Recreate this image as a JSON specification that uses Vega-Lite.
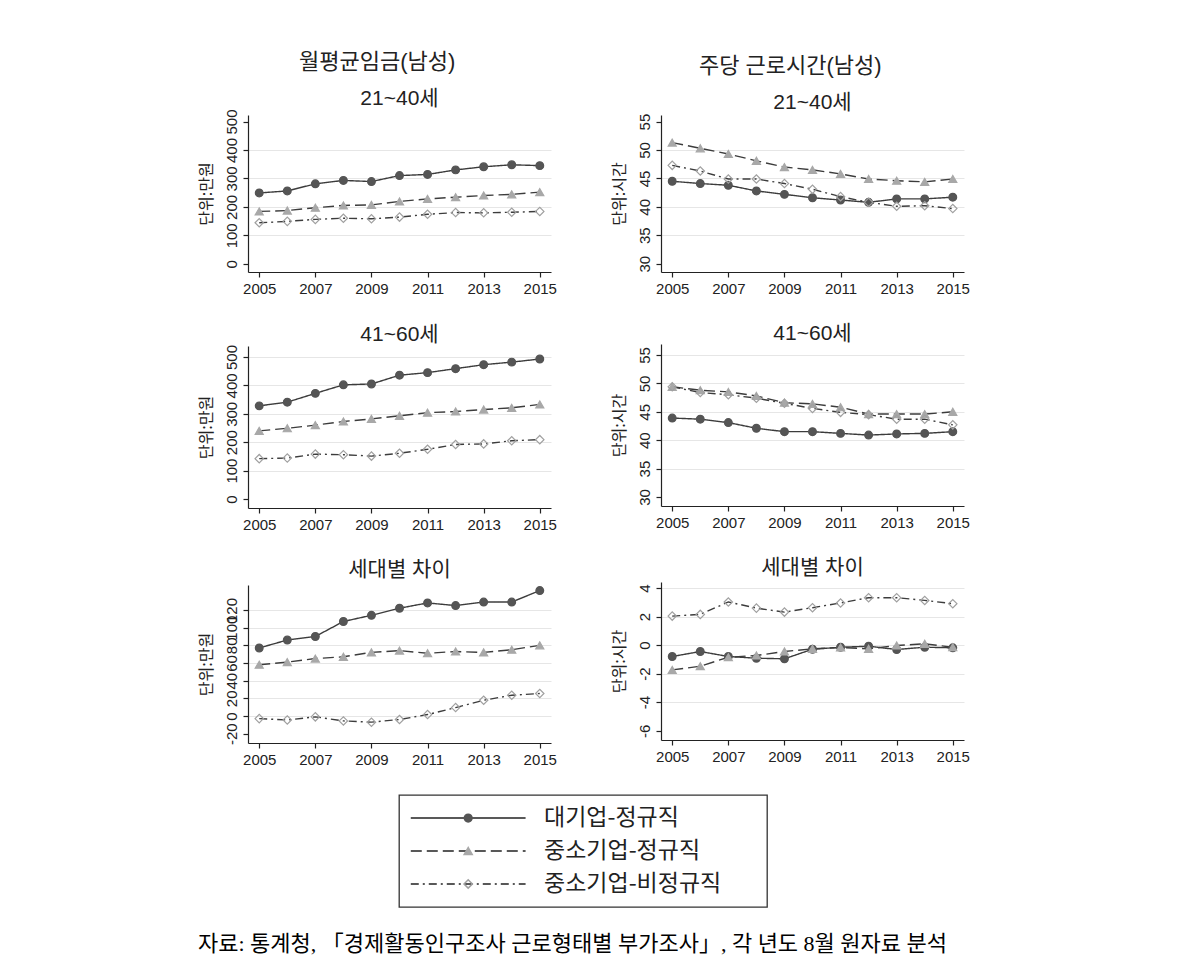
{
  "$schema": "https://vega.github.io/schema/vega-lite/v6.json",
  "padding": {"left": 198, "top": 51, "right": 0, "bottom": 0},
  "background": "white",
  "datasets": {
    "d": [
      {"p": "w1", "year": 2005, "대기업-정규직": 249, "중소기업-정규직": 184, "중소기업-비정규직": 144},
      {"p": "w1", "year": 2006, "대기업-정규직": 256, "중소기업-정규직": 187, "중소기업-비정규직": 149},
      {"p": "w1", "year": 2007, "대기업-정규직": 281, "중소기업-정규직": 197, "중소기업-비정규직": 156},
      {"p": "w1", "year": 2008, "대기업-정규직": 293, "중소기업-정규직": 205, "중소기업-비정규직": 160},
      {"p": "w1", "year": 2009, "대기업-정규직": 289, "중소기업-정규직": 207, "중소기업-비정규직": 158},
      {"p": "w1", "year": 2010, "대기업-정규직": 310, "중소기업-정규직": 219, "중소기업-비정규직": 164},
      {"p": "w1", "year": 2011, "대기업-정규직": 314, "중소기업-정규직": 228, "중소기업-비정규직": 174},
      {"p": "w1", "year": 2012, "대기업-정규직": 330, "중소기업-정규직": 234, "중소기업-비정규직": 180},
      {"p": "w1", "year": 2013, "대기업-정규직": 341, "중소기업-정규직": 240, "중소기업-비정규직": 179},
      {"p": "w1", "year": 2014, "대기업-정규직": 348, "중소기업-정규직": 244, "중소기업-비정규직": 181},
      {"p": "w1", "year": 2015, "대기업-정규직": 345, "중소기업-정규직": 252, "중소기업-비정규직": 184},
      {"p": "w2", "year": 2005, "대기업-정규직": 328, "중소기업-정규직": 240, "중소기업-비정규직": 142},
      {"p": "w2", "year": 2006, "대기업-정규직": 341, "중소기업-정규직": 249, "중소기업-비정규직": 144},
      {"p": "w2", "year": 2007, "대기업-정규직": 372, "중소기업-정규직": 260, "중소기업-비정규직": 158},
      {"p": "w2", "year": 2008, "대기업-정규직": 402, "중소기업-정규직": 273, "중소기업-비정규직": 156},
      {"p": "w2", "year": 2009, "대기업-정규직": 405, "중소기업-정규직": 282, "중소기업-비정규직": 151},
      {"p": "w2", "year": 2010, "대기업-정규직": 436, "중소기업-정규직": 293, "중소기업-비정규직": 161},
      {"p": "w2", "year": 2011, "대기업-정규직": 445, "중소기업-정규직": 304, "중소기업-비정규직": 175},
      {"p": "w2", "year": 2012, "대기업-정규직": 459, "중소기업-정규직": 308, "중소기업-비정규직": 192},
      {"p": "w2", "year": 2013, "대기업-정규직": 473, "중소기업-정규직": 315, "중소기업-비정규직": 194},
      {"p": "w2", "year": 2014, "대기업-정규직": 482, "중소기업-정규직": 321, "중소기업-비정규직": 205},
      {"p": "w2", "year": 2015, "대기업-정규직": 493, "중소기업-정규직": 333, "중소기업-비정규직": 209},
      {"p": "w3", "year": 2005, "대기업-정규직": 77, "중소기업-정규직": 58, "중소기업-비정규직": -3},
      {"p": "w3", "year": 2006, "대기업-정규직": 86, "중소기업-정규직": 61, "중소기업-비정규직": -4.5},
      {"p": "w3", "year": 2007, "대기업-정규직": 90, "중소기업-정규직": 65, "중소기업-비정규직": -1},
      {"p": "w3", "year": 2008, "대기업-정규직": 107, "중소기업-정규직": 67, "중소기업-비정규직": -5.6},
      {"p": "w3", "year": 2009, "대기업-정규직": 114, "중소기업-정규직": 72, "중소기업-비정규직": -7},
      {"p": "w3", "year": 2010, "대기업-정규직": 122, "중소기업-정규직": 74, "중소기업-비정규직": -4},
      {"p": "w3", "year": 2011, "대기업-정규직": 128, "중소기업-정규직": 71, "중소기업-비정규직": 1.6},
      {"p": "w3", "year": 2012, "대기업-정규직": 125, "중소기업-정규직": 73, "중소기업-비정규직": 9.5},
      {"p": "w3", "year": 2013, "대기업-정규직": 129, "중소기업-정규직": 72, "중소기업-비정규직": 17.8},
      {"p": "w3", "year": 2014, "대기업-정규직": 129, "중소기업-정규직": 75, "중소기업-비정규직": 23.5},
      {"p": "w3", "year": 2015, "대기업-정규직": 142, "중소기업-정규직": 80, "중소기업-비정규직": 25.4},
      {"p": "h1", "year": 2005, "대기업-정규직": 44.5, "중소기업-정규직": 51.3, "중소기업-비정규직": 47.3},
      {"p": "h1", "year": 2006, "대기업-정규직": 44.1, "중소기업-정규직": 50.3, "중소기업-비정규직": 46.3},
      {"p": "h1", "year": 2007, "대기업-정규직": 43.8, "중소기업-정규직": 49.3, "중소기업-비정규직": 44.9},
      {"p": "h1", "year": 2008, "대기업-정규직": 42.8, "중소기업-정규직": 48.1, "중소기업-비정규직": 44.9},
      {"p": "h1", "year": 2009, "대기업-정규직": 42.2, "중소기업-정규직": 47.0, "중소기업-비정규직": 44.1},
      {"p": "h1", "year": 2010, "대기업-정규직": 41.6, "중소기업-정규직": 46.5, "중소기업-비정규직": 43.1},
      {"p": "h1", "year": 2011, "대기업-정규직": 41.2, "중소기업-정규직": 45.8, "중소기업-비정규직": 41.8},
      {"p": "h1", "year": 2012, "대기업-정규직": 40.8, "중소기업-정규직": 44.9, "중소기업-비정규직": 40.8},
      {"p": "h1", "year": 2013, "대기업-정규직": 41.4, "중소기업-정규직": 44.6, "중소기업-비정규직": 40.1},
      {"p": "h1", "year": 2014, "대기업-정규직": 41.4, "중소기업-정규직": 44.4, "중소기업-비정규직": 40.2},
      {"p": "h1", "year": 2015, "대기업-정규직": 41.7, "중소기업-정규직": 44.9, "중소기업-비정규직": 39.7},
      {"p": "h2", "year": 2005, "대기업-정규직": 43.9, "중소기업-정규직": 49.4, "중소기업-비정규직": 49.4},
      {"p": "h2", "year": 2006, "대기업-정규직": 43.7, "중소기업-정규직": 48.8, "중소기업-비정규직": 48.4},
      {"p": "h2", "year": 2007, "대기업-정규직": 43.1, "중소기업-정규직": 48.5, "중소기업-비정규직": 48.0},
      {"p": "h2", "year": 2008, "대기업-정규직": 42.1, "중소기업-정규직": 47.8, "중소기업-비정규직": 47.4},
      {"p": "h2", "year": 2009, "대기업-정규직": 41.5, "중소기업-정규직": 46.6, "중소기업-비정규직": 46.5},
      {"p": "h2", "year": 2010, "대기업-정규직": 41.5, "중소기업-정규직": 46.4, "중소기업-비정규직": 45.6},
      {"p": "h2", "year": 2011, "대기업-정규직": 41.2, "중소기업-정규직": 45.8, "중소기업-비정규직": 44.9},
      {"p": "h2", "year": 2012, "대기업-정규직": 40.9, "중소기업-정규직": 44.6, "중소기업-비정규직": 44.5},
      {"p": "h2", "year": 2013, "대기업-정규직": 41.1, "중소기업-정규직": 44.6, "중소기업-비정규직": 43.7},
      {"p": "h2", "year": 2014, "대기업-정규직": 41.2, "중소기업-정규직": 44.6, "중소기업-비정규직": 43.7},
      {"p": "h2", "year": 2015, "대기업-정규직": 41.5, "중소기업-정규직": 45.0, "중소기업-비정규직": 42.7},
      {"p": "h3", "year": 2005, "대기업-정규직": -0.80, "중소기업-정규직": -1.74, "중소기업-비정규직": 2.03},
      {"p": "h3", "year": 2006, "대기업-정규직": -0.45, "중소기업-정규직": -1.48, "중소기업-비정규직": 2.15},
      {"p": "h3", "year": 2007, "대기업-정규직": -0.80, "중소기업-정규직": -0.85, "중소기업-비정규직": 3.02},
      {"p": "h3", "year": 2008, "대기업-정규직": -0.92, "중소기업-정규직": -0.73, "중소기업-비정규직": 2.59},
      {"p": "h3", "year": 2009, "대기업-정규직": -0.96, "중소기업-정규직": -0.45, "중소기업-비정규직": 2.31},
      {"p": "h3", "year": 2010, "대기업-정규직": -0.29, "중소기업-정규직": -0.26, "중소기업-비정규직": 2.62},
      {"p": "h3", "year": 2011, "대기업-정규직": -0.15, "중소기업-정규직": -0.17, "중소기업-비정규직": 2.95},
      {"p": "h3", "year": 2012, "대기업-정규직": -0.08, "중소기업-정규직": -0.26, "중소기업-비정규직": 3.32},
      {"p": "h3", "year": 2013, "대기업-정규직": -0.31, "중소기업-정규직": -0.03, "중소기업-비정규직": 3.32},
      {"p": "h3", "year": 2014, "대기업-정규직": -0.15, "중소기업-정규직": 0.09, "중소기업-비정규직": 3.13},
      {"p": "h3", "year": 2015, "대기업-정규직": -0.19, "중소기업-정규직": -0.15, "중소기업-비정규직": 2.90}
    ],
    "legend": [
      {"g": "대기업-정규직"},
      {"g": "중소기업-정규직"},
      {"g": "중소기업-비정규직"}
    ]
  },
  "title": {"text": "자료: 통계청, 「경제활동인구조사 근로형태별 부가조사」, 각 년도 8월 원자료 분석", "orient": "bottom", "anchor": "start", "frame": "bounds", "offset": 26, "font": "Liberation Serif, Noto Sans CJK KR", "fontSize": 22, "fontWeight": "normal", "color": "#000"},
  "spacing": 27,
  "vconcat": [
    {
      "spacing": 54,
      "hconcat": [
        {
          "title": {"text": "월평균임금(남성)", "anchor": "middle", "frame": "bounds", "fontSize": 22, "offset": 14},
          "spacing": 27,
          "vconcat": [
            {
              "width": 303, "height": 157,
              "title": {"text": "21~40세", "offset": 0, "frame": "group"},
              "data": {"name": "d"},
              "transform": [{"filter": "datum.p === 'w1'"}, {"fold": ["대기업-정규직", "중소기업-정규직", "중소기업-비정규직"], "as": ["g", "v"]}],
              "encoding": {
                "x": {"field": "year", "type": "quantitative", "scale": {"domain": [2004.6, 2015.4], "nice": false, "zero": false}, "axis": {"values": [2005, 2007, 2009, 2011, 2013, 2015], "format": "d", "title": null}},
                "y": {"field": "v", "type": "quantitative", "scale": {"domain": [-29, 523], "nice": false, "zero": false}, "axis": {"values": [0, 100, 200, 300, 400, 500], "title": "단위:만원", "gridOpacity": {"condition": {"test": "datum.value <= 0 || datum.value >= 500", "value": 0}, "value": 1}}}
              },
              "layer": [
                {"mark": {"type": "line", "color": "#3c3c3c", "strokeWidth": 1.4}, "encoding": {"strokeDash": {"field": "g", "type": "nominal", "scale": {"domain": ["대기업-정규직", "중소기업-정규직", "중소기업-비정규직"], "range": [[1, 0], [11, 5], [8, 4, 2, 4]]}, "legend": null}}},
                {"mark": {"type": "point", "opacity": 1, "strokeWidth": 1.2}, "encoding": {
                  "shape": {"field": "g", "type": "nominal", "scale": {"domain": ["대기업-정규직", "중소기업-정규직", "중소기업-비정규직"], "range": ["circle", "triangle-up", "diamond"]}, "legend": null},
                  "fill": {"field": "g", "type": "nominal", "scale": {"domain": ["대기업-정규직", "중소기업-정규직", "중소기업-비정규직"], "range": ["#555555", "#a8a8a8", "transparent"]}, "legend": null},
                  "stroke": {"field": "g", "type": "nominal", "scale": {"domain": ["대기업-정규직", "중소기업-정규직", "중소기업-비정규직"], "range": ["#555555", "#a8a8a8", "#a0a0a0"]}, "legend": null},
                  "size": {"field": "g", "type": "ordinal", "scale": {"domain": ["대기업-정규직", "중소기업-정규직", "중소기업-비정규직"], "range": [60, 70, 85]}, "legend": null}
                }}
              ]
            },
            {
              "width": 303, "height": 162,
              "title": {"text": "41~60세", "offset": 0, "frame": "group"},
              "data": {"name": "d"},
              "transform": [{"filter": "datum.p === 'w2'"}, {"fold": ["대기업-정규직", "중소기업-정규직", "중소기업-비정규직"], "as": ["g", "v"]}],
              "encoding": {
                "x": {"field": "year", "type": "quantitative", "scale": {"domain": [2004.6, 2015.4], "nice": false, "zero": false}, "axis": {"values": [2005, 2007, 2009, 2011, 2013, 2015], "format": "d", "title": null}},
                "y": {"field": "v", "type": "quantitative", "scale": {"domain": [-31.8, 538.8], "nice": false, "zero": false}, "axis": {"values": [0, 100, 200, 300, 400, 500], "title": "단위:만원", "gridOpacity": {"condition": {"test": "datum.value <= 0", "value": 0}, "value": 1}}}
              },
              "layer": [
                {"mark": {"type": "line", "color": "#3c3c3c", "strokeWidth": 1.4}, "encoding": {"strokeDash": {"field": "g", "type": "nominal", "scale": {"domain": ["대기업-정규직", "중소기업-정규직", "중소기업-비정규직"], "range": [[1, 0], [11, 5], [8, 4, 2, 4]]}, "legend": null}}},
                {"mark": {"type": "point", "opacity": 1, "strokeWidth": 1.2}, "encoding": {
                  "shape": {"field": "g", "type": "nominal", "scale": {"domain": ["대기업-정규직", "중소기업-정규직", "중소기업-비정규직"], "range": ["circle", "triangle-up", "diamond"]}, "legend": null},
                  "fill": {"field": "g", "type": "nominal", "scale": {"domain": ["대기업-정규직", "중소기업-정규직", "중소기업-비정규직"], "range": ["#555555", "#a8a8a8", "transparent"]}, "legend": null},
                  "stroke": {"field": "g", "type": "nominal", "scale": {"domain": ["대기업-정규직", "중소기업-정규직", "중소기업-비정규직"], "range": ["#555555", "#a8a8a8", "#a0a0a0"]}, "legend": null},
                  "size": {"field": "g", "type": "ordinal", "scale": {"domain": ["대기업-정규직", "중소기업-정규직", "중소기업-비정규직"], "range": [60, 70, 85]}, "legend": null}
                }}
              ]
            },
            {
              "width": 303, "height": 158,
              "title": {"text": "세대별 차이", "offset": 4, "frame": "group"},
              "data": {"name": "d"},
              "transform": [{"filter": "datum.p === 'w3'"}, {"fold": ["대기업-정규직", "중소기업-정규직", "중소기업-비정규직"], "as": ["g", "v"]}],
              "encoding": {
                "x": {"field": "year", "type": "quantitative", "scale": {"domain": [2004.6, 2015.4], "nice": false, "zero": false}, "axis": {"values": [2005, 2007, 2009, 2011, 2013, 2015], "format": "d", "title": null}},
                "y": {"field": "v", "type": "quantitative", "scale": {"domain": [-30.6, 148.3], "nice": false, "zero": false}, "axis": {"values": [-20, 0, 20, 40, 60, 80, 100, 120], "title": "단위:만원", "gridOpacity": {"condition": {"test": "datum.value <= -20", "value": 0}, "value": 1}}}
              },
              "layer": [
                {"mark": {"type": "line", "color": "#3c3c3c", "strokeWidth": 1.4}, "encoding": {"strokeDash": {"field": "g", "type": "nominal", "scale": {"domain": ["대기업-정규직", "중소기업-정규직", "중소기업-비정규직"], "range": [[1, 0], [11, 5], [8, 4, 2, 4]]}, "legend": null}}},
                {"mark": {"type": "point", "opacity": 1, "strokeWidth": 1.2}, "encoding": {
                  "shape": {"field": "g", "type": "nominal", "scale": {"domain": ["대기업-정규직", "중소기업-정규직", "중소기업-비정규직"], "range": ["circle", "triangle-up", "diamond"]}, "legend": null},
                  "fill": {"field": "g", "type": "nominal", "scale": {"domain": ["대기업-정규직", "중소기업-정규직", "중소기업-비정규직"], "range": ["#555555", "#a8a8a8", "transparent"]}, "legend": null},
                  "stroke": {"field": "g", "type": "nominal", "scale": {"domain": ["대기업-정규직", "중소기업-정규직", "중소기업-비정규직"], "range": ["#555555", "#a8a8a8", "#a0a0a0"]}, "legend": null},
                  "size": {"field": "g", "type": "ordinal", "scale": {"domain": ["대기업-정규직", "중소기업-정규직", "중소기업-비정규직"], "range": [60, 70, 85]}, "legend": null}
                }}
              ]
            }
          ]
        },
        {
          "title": {"text": "주당 근로시간(남성)", "anchor": "middle", "frame": "bounds", "fontSize": 22, "offset": 14},
          "spacing": 27,
          "vconcat": [
            {
              "width": 303, "height": 157,
              "title": {"text": "21~40세", "offset": 0, "frame": "group"},
              "data": {"name": "d"},
              "transform": [{"filter": "datum.p === 'h1'"}, {"fold": ["대기업-정규직", "중소기업-정규직", "중소기업-비정규직"], "as": ["g", "v"]}],
              "encoding": {
                "x": {"field": "year", "type": "quantitative", "scale": {"domain": [2004.6, 2015.4], "nice": false, "zero": false}, "axis": {"values": [2005, 2007, 2009, 2011, 2013, 2015], "format": "d", "title": null}},
                "y": {"field": "v", "type": "quantitative", "scale": {"domain": [28.54, 56.16], "nice": false, "zero": false}, "axis": {"values": [30, 35, 40, 45, 50, 55], "title": "단위:시간", "gridOpacity": {"condition": {"test": "datum.value <= 30 || datum.value >= 55", "value": 0}, "value": 1}}}
              },
              "layer": [
                {"mark": {"type": "line", "color": "#3c3c3c", "strokeWidth": 1.4}, "encoding": {"strokeDash": {"field": "g", "type": "nominal", "scale": {"domain": ["대기업-정규직", "중소기업-정규직", "중소기업-비정규직"], "range": [[1, 0], [11, 5], [8, 4, 2, 4]]}, "legend": null}}},
                {"mark": {"type": "point", "opacity": 1, "strokeWidth": 1.2}, "encoding": {
                  "shape": {"field": "g", "type": "nominal", "scale": {"domain": ["대기업-정규직", "중소기업-정규직", "중소기업-비정규직"], "range": ["circle", "triangle-up", "diamond"]}, "legend": null},
                  "fill": {"field": "g", "type": "nominal", "scale": {"domain": ["대기업-정규직", "중소기업-정규직", "중소기업-비정규직"], "range": ["#555555", "#a8a8a8", "transparent"]}, "legend": null},
                  "stroke": {"field": "g", "type": "nominal", "scale": {"domain": ["대기업-정규직", "중소기업-정규직", "중소기업-비정규직"], "range": ["#555555", "#a8a8a8", "#a0a0a0"]}, "legend": null},
                  "size": {"field": "g", "type": "ordinal", "scale": {"domain": ["대기업-정규직", "중소기업-정규직", "중소기업-비정규직"], "range": [60, 70, 85]}, "legend": null}
                }}
              ]
            },
            {
              "width": 303, "height": 162,
              "title": {"text": "41~60세", "offset": 0, "frame": "group"},
              "data": {"name": "d"},
              "transform": [{"filter": "datum.p === 'h2'"}, {"fold": ["대기업-정규직", "중소기업-정규직", "중소기업-비정규직"], "as": ["g", "v"]}],
              "encoding": {
                "x": {"field": "year", "type": "quantitative", "scale": {"domain": [2004.6, 2015.4], "nice": false, "zero": false}, "axis": {"values": [2005, 2007, 2009, 2011, 2013, 2015], "format": "d", "title": null}},
                "y": {"field": "v", "type": "quantitative", "scale": {"domain": [28.41, 56.94], "nice": false, "zero": false}, "axis": {"values": [30, 35, 40, 45, 50, 55], "title": "단위:시간", "gridOpacity": {"condition": {"test": "datum.value <= 30", "value": 0}, "value": 1}}}
              },
              "layer": [
                {"mark": {"type": "line", "color": "#3c3c3c", "strokeWidth": 1.4}, "encoding": {"strokeDash": {"field": "g", "type": "nominal", "scale": {"domain": ["대기업-정규직", "중소기업-정규직", "중소기업-비정규직"], "range": [[1, 0], [11, 5], [8, 4, 2, 4]]}, "legend": null}}},
                {"mark": {"type": "point", "opacity": 1, "strokeWidth": 1.2}, "encoding": {
                  "shape": {"field": "g", "type": "nominal", "scale": {"domain": ["대기업-정규직", "중소기업-정규직", "중소기업-비정규직"], "range": ["circle", "triangle-up", "diamond"]}, "legend": null},
                  "fill": {"field": "g", "type": "nominal", "scale": {"domain": ["대기업-정규직", "중소기업-정규직", "중소기업-비정규직"], "range": ["#555555", "#a8a8a8", "transparent"]}, "legend": null},
                  "stroke": {"field": "g", "type": "nominal", "scale": {"domain": ["대기업-정규직", "중소기업-정규직", "중소기업-비정규직"], "range": ["#555555", "#a8a8a8", "#a0a0a0"]}, "legend": null},
                  "size": {"field": "g", "type": "ordinal", "scale": {"domain": ["대기업-정규직", "중소기업-정규직", "중소기업-비정규직"], "range": [60, 70, 85]}, "legend": null}
                }}
              ]
            },
            {
              "width": 303, "height": 158,
              "title": {"text": "세대별 차이", "offset": 4, "frame": "group"},
              "data": {"name": "d"},
              "transform": [{"filter": "datum.p === 'h3'"}, {"fold": ["대기업-정규직", "중소기업-정규직", "중소기업-비정규직"], "as": ["g", "v"]}],
              "encoding": {
                "x": {"field": "year", "type": "quantitative", "scale": {"domain": [2004.6, 2015.4], "nice": false, "zero": false}, "axis": {"values": [2005, 2007, 2009, 2011, 2013, 2015], "format": "d", "title": null}},
                "y": {"field": "v", "type": "quantitative", "scale": {"domain": [-6.65, 4.42], "nice": false, "zero": false}, "axis": {"values": [-6, -4, -2, 0, 2, 4], "title": "단위:시간", "gridOpacity": {"condition": {"test": "datum.value <= -6", "value": 0}, "value": 1}}}
              },
              "layer": [
                {"mark": {"type": "line", "color": "#3c3c3c", "strokeWidth": 1.4}, "encoding": {"strokeDash": {"field": "g", "type": "nominal", "scale": {"domain": ["대기업-정규직", "중소기업-정규직", "중소기업-비정규직"], "range": [[1, 0], [11, 5], [8, 4, 2, 4]]}, "legend": null}}},
                {"mark": {"type": "point", "opacity": 1, "strokeWidth": 1.2}, "encoding": {
                  "shape": {"field": "g", "type": "nominal", "scale": {"domain": ["대기업-정규직", "중소기업-정규직", "중소기업-비정규직"], "range": ["circle", "triangle-up", "diamond"]}, "legend": null},
                  "fill": {"field": "g", "type": "nominal", "scale": {"domain": ["대기업-정규직", "중소기업-정규직", "중소기업-비정규직"], "range": ["#555555", "#a8a8a8", "transparent"]}, "legend": null},
                  "stroke": {"field": "g", "type": "nominal", "scale": {"domain": ["대기업-정규직", "중소기업-정규직", "중소기업-비정규직"], "range": ["#555555", "#a8a8a8", "#a0a0a0"]}, "legend": null},
                  "size": {"field": "g", "type": "ordinal", "scale": {"domain": ["대기업-정규직", "중소기업-정규직", "중소기업-비정규직"], "range": [60, 70, 85]}, "legend": null}
                }}
              ]
            }
          ]
        }
      ]
    },
    {
      "spacing": 0,
      "hconcat": [
        {
          "width": 150, "height": 10,
          "data": {"values": []},
          "mark": {"type": "point", "opacity": 0},
          "encoding": {}
        },
        {
          "width": 368, "height": 112,
          "view": {"stroke": "#333333", "strokeWidth": 1.3},
          "data": {"name": "legend"},
          "encoding": {
            "y": {"field": "g", "type": "nominal", "scale": {"type": "point", "domain": ["대기업-정규직", "중소기업-정규직", "중소기업-비정규직"], "padding": 0.7}, "axis": null}
          },
          "layer": [
            {"mark": {"type": "rule", "color": "#222222", "strokeWidth": 1.5}, "encoding": {
              "x": {"datum": 0.32, "type": "quantitative", "scale": {"domain": [0, 10], "nice": false, "zero": false}, "axis": null},
              "x2": {"datum": 3.44},
              "strokeDash": {"field": "g", "type": "nominal", "scale": {"domain": ["대기업-정규직", "중소기업-정규직", "중소기업-비정규직"], "range": [[1, 0], [12, 6], [6, 5, 2, 5]]}, "legend": null}
            }},
            {"mark": {"type": "point", "opacity": 1, "strokeWidth": 1.5}, "encoding": {
              "x": {"datum": 1.88, "type": "quantitative"},
              "shape": {"field": "g", "type": "nominal", "scale": {"domain": ["대기업-정규직", "중소기업-정규직", "중소기업-비정규직"], "range": ["circle", "triangle-up", "diamond"]}, "legend": null},
              "fill": {"field": "g", "type": "nominal", "scale": {"domain": ["대기업-정규직", "중소기업-정규직", "중소기업-비정규직"], "range": ["#555555", "#a8a8a8", "white"]}, "legend": null},
              "stroke": {"field": "g", "type": "nominal", "scale": {"domain": ["대기업-정규직", "중소기업-정규직", "중소기업-비정규직"], "range": ["#555555", "#a8a8a8", "#777777"]}, "legend": null},
              "size": {"field": "g", "type": "ordinal", "scale": {"domain": ["대기업-정규직", "중소기업-정규직", "중소기업-비정규직"], "range": [120, 130, 120]}, "legend": null}
            }},
            {"mark": {"type": "text", "align": "left", "baseline": "middle", "fontSize": 23, "font": "Noto Sans CJK KR", "color": "#222222"}, "encoding": {
              "x": {"datum": 3.94, "type": "quantitative"},
              "text": {"field": "g", "type": "nominal"}
            }}
          ]
        }
      ]
    }
  ],
  "config": {
    "view": {"stroke": null},
    "font": "Liberation Sans, Noto Sans CJK KR",
    "axis": {"domainColor": "#222222", "domainWidth": 1.2, "tickColor": "#222222", "tickSize": 5, "tickWidth": 1.2, "labelFont": "Liberation Sans", "labelFontSize": 15, "labelColor": "#222222", "labelOverlap": false, "labelFlush": false, "labelPadding": 4, "gridColor": "#e6e6e6", "gridWidth": 1, "titleFont": "Noto Sans CJK KR", "titleFontWeight": "normal", "titleFontSize": 16, "titleColor": "#222222"},
    "axisX": {"grid": false},
    "axisY": {"grid": true, "labelAngle": -90, "labelAlign": "center", "labelBaseline": "bottom", "titlePadding": 10, "labelExpr": "'' + datum.value"},
    "title": {"font": "Liberation Sans, Noto Sans CJK KR", "fontWeight": "normal", "fontSize": 21, "color": "#222222"}
  }
}
